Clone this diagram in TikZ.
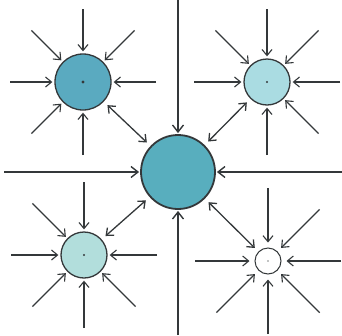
\documentclass[tikz,border=0pt]{standalone}
\usetikzlibrary{arrows.meta, calc}
\definecolor{cellteal}{RGB}{88,174,190}
\definecolor{celldeep}{RGB}{90,170,192}
\definecolor{celllight}{RGB}{170,220,226}
\definecolor{cellpale}{RGB}{178,222,220}
\definecolor{inkgray}{RGB}{52,56,58}

\begin{document}
\begin{tikzpicture}[x=1pt, y=-1pt,
  cell/.style={circle, draw=inkgray, line width=1.3pt, inner sep=0pt},
  inflow/.style={-{Straight Barb[length=6pt, width=10pt]}, inkgray,
    line width=1.1pt, shorten >=2pt},
  mainflow/.style={-{Straight Barb[length=7pt, width=11pt]}, inkgray,
    line width=1.4pt, shorten >=1pt},
  exchange/.style={{Straight Barb[length=6pt, width=10pt]}-{Straight Barb[length=6pt, width=10pt]},
    inkgray, line width=1.3pt, shorten <=5pt, shorten >=5pt}
]
  \useasboundingbox (0,0) rectangle (342,335);

  % Cells
  \node[cell, line width=1.8pt, fill=cellteal, minimum size=74pt] (big) at (178,172) {};
  \node[cell, fill=celldeep, minimum size=56pt] (tl) at (83,82) {};
  \node[cell, fill=celllight, minimum size=46pt] (tr) at (267,82) {};
  \node[cell, fill=cellpale, minimum size=46pt] (bl) at (84,255) {};
  \node[cell, line width=1pt, fill=white, minimum size=26pt] (br) at (268,261) {};

  % Nuclei
  \fill[inkgray] (tl) circle (1.6);
  \fill[inkgray] (tr) circle (1.2);
  \fill[inkgray] (bl) circle (1.2);
  \fill[inkgray!60] (br) circle (0.8);

  % Inflow to the satellite cells (the side facing the centre is left out)
  \foreach \c/\gap/\sh in {tl/45/2, tr/135/2, bl/315/2, br/225/5}
    \foreach \a in {0, 45, ..., 315} {
      \ifnum\a=\gap\relax\else
        \coordinate (\c-\a) at ($(\c)+(\a:73)$);
        \draw[inflow, shorten >=\sh pt] (\c-\a) -- (\c);
      \fi
    }

  % Inflow to the central cell
  \coordinate (top) at (178,0);
  \coordinate (bottom) at (178,335);
  \coordinate (left) at (4,172);
  \coordinate (right) at (342,172);
  \foreach \e in {top, bottom, left, right}
    \draw[mainflow] (\e) -- (big);

  % Exchange with the central cell
  \foreach \c in {tl, tr, bl, br}
    \draw[exchange] (\c) -- (big);
\end{tikzpicture}
\end{document}
